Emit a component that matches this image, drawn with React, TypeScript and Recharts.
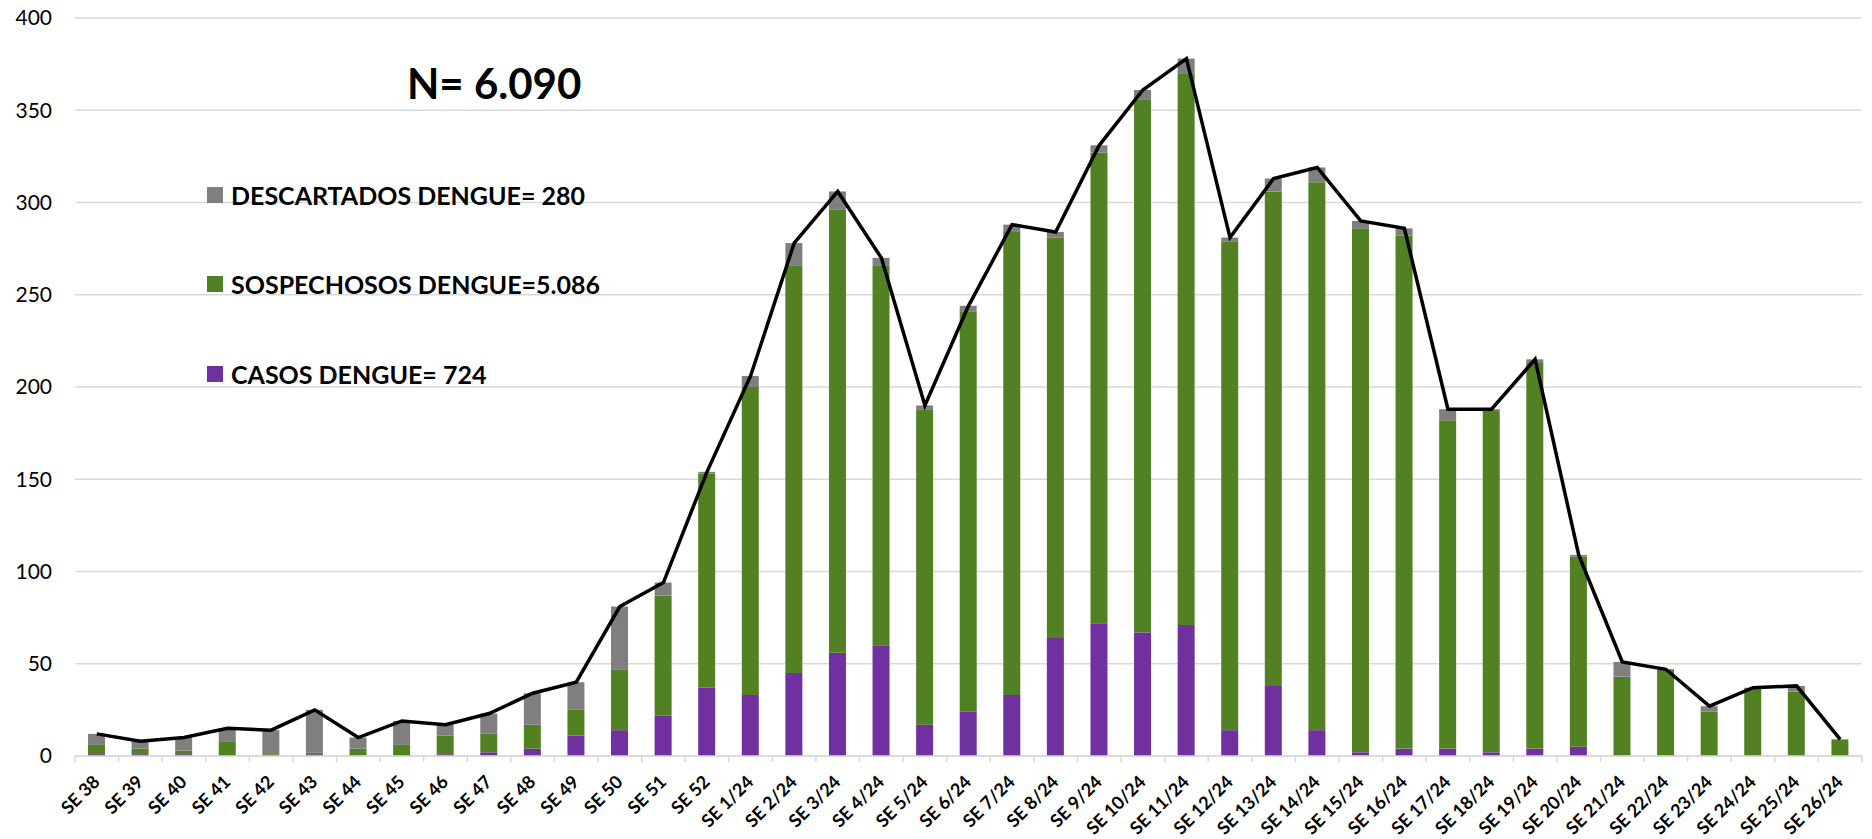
import { ComposedChart, Bar, Line, XAxis, YAxis, CartesianGrid, Legend } from 'recharts'

const W = 1872
const H = 839
const MARGIN = { top: 18, right: 10, left: 0, bottom: 0 }
const Y_AXIS_W = 75
const X_AXIS_H = 83

const weeks = [
  'SE 38', 'SE 39', 'SE 40', 'SE 41', 'SE 42', 'SE 43', 'SE 44', 'SE 45', 'SE 46', 'SE 47',
  'SE 48', 'SE 49', 'SE 50', 'SE 51', 'SE 52',
  'SE 1/24', 'SE 2/24', 'SE 3/24', 'SE 4/24', 'SE 5/24', 'SE 6/24', 'SE 7/24', 'SE 8/24',
  'SE 9/24', 'SE 10/24', 'SE 11/24', 'SE 12/24', 'SE 13/24', 'SE 14/24', 'SE 15/24', 'SE 16/24',
  'SE 17/24', 'SE 18/24', 'SE 19/24', 'SE 20/24', 'SE 21/24', 'SE 22/24', 'SE 23/24', 'SE 24/24',
  'SE 25/24', 'SE 26/24',
]

// casos confirmados (purple)
const casos = [
  1, 1, 1, 0, 0, 1, 0, 0, 1, 2, 4, 11, 14, 22, 37,
  33, 45, 56, 60, 17, 24, 33, 64, 72, 67, 71, 14, 38, 14, 2, 4, 4, 2, 4, 5, 0, 0, 0, 0, 0, 0,
]
// sospechosos (green)
const sospechosos = [
  5, 3, 2, 8, 1, 1, 4, 6, 10, 10, 13, 14, 33, 65, 116,
  167, 221, 240, 206, 171, 217, 251, 217, 255, 289, 299, 265, 268, 297, 284, 278, 178, 185, 209, 103,
  43, 47, 24, 37, 35, 9,
]
// descartados (gray)
const descartados = [
  6, 4, 7, 7, 13, 23, 6, 13, 6, 11, 17, 15, 34, 7, 1,
  6, 12, 10, 4, 2, 3, 4, 3, 4, 5, 8, 2, 7, 8, 4, 4, 6, 1, 2, 1, 8, 0, 3, 0, 3, 0,
]
// total per week (black line)
const totales = [
  12, 8, 10, 15, 14, 25, 10, 19, 17, 23, 34, 40, 81, 94, 154,
  206, 278, 306, 270, 190, 244, 288, 284, 331, 361, 378, 281, 313, 319, 290, 286, 188, 188, 215, 109,
  51, 47, 27, 37, 38, 9,
]

const yTicks = [0, 50, 100, 150, 200, 250, 300, 350, 400]

const legendItems = [
  { label: 'DESCARTADOS DENGUE= 280', color: '#7f7f7f' },
  { label: 'SOSPECHOSOS DENGUE=5.086', color: '#528124' },
  { label: 'CASOS DENGUE= 724', color: '#7030a0' },
]

const FONT = 'Lato, "Open Sans", sans-serif'
const GRID = '#d9d9d9'

const data = weeks.map((week, i) => ({
  week,
  casos: casos[i],
  sosp: sospechosos[i],
  desc: descartados[i],
  total: totales[i],
}))

const PLOT_W = W - MARGIN.left - MARGIN.right - Y_AXIS_W
const BAND = PLOT_W / weeks.length

function WeekTick(props: any) {
  const { x, y, payload, index } = props
  const half = BAND / 2
  return (
    <g>
      <line x1={x - half} x2={x - half} y1={y} y2={y + 6} stroke={GRID} strokeWidth={1.5} />
      {index === weeks.length - 1 && (
        <line x1={x + half} x2={x + half} y1={y} y2={y + 6} stroke={GRID} strokeWidth={1.5} />
      )}
      <text
        transform={`translate(${x + 4},${y + 27}) rotate(-45)`}
        textAnchor="end"
        fontFamily={FONT}
        fontWeight={700}
        fontSize={18}
        fill="#000"
      >
        {payload.value}
      </text>
    </g>
  )
}

function LegendBox() {
  return (
    <div style={{ fontFamily: FONT }}>
      {legendItems.map((it, i) => (
        <div
          key={it.label}
          style={{ display: 'flex', alignItems: 'center', height: 30, marginBottom: i < 2 ? 59.6 : 0 }}
        >
          <span style={{ width: 16, height: 16, background: it.color, display: 'inline-block', marginRight: 8 }} />
          <span style={{ fontSize: 25, fontWeight: 700, color: '#000', whiteSpace: 'nowrap' }}>{it.label}</span>
        </div>
      ))}
    </div>
  )
}

export default function App() {
  return (
    <div style={{ position: 'absolute', left: 0, top: 0, width: W, height: H, background: '#fff' }}>
      <ComposedChart width={W} height={H} data={data} margin={MARGIN}>
        <CartesianGrid vertical={false} stroke={GRID} strokeWidth={1.5} />
        <XAxis
          dataKey="week"
          height={X_AXIS_H}
          interval={0}
          axisLine={{ stroke: GRID, strokeWidth: 1.5 }}
          tickLine={false}
          tickSize={0}
          tickMargin={0}
          tick={<WeekTick />}
        />
        <YAxis
          width={Y_AXIS_W}
          domain={[0, 400]}
          ticks={yTicks}
          axisLine={false}
          tickLine={false}
          tickSize={0}
          tickMargin={23}
          tick={{ fontFamily: FONT, fontSize: 21, fill: '#000' }}
        />
        <Legend
          layout="vertical"
          align="center"
          verticalAlign="middle"
          content={<LegendBox />}
          wrapperStyle={{ left: 207, top: 179.5, width: 'auto', height: 'auto' }}
        />
        <Bar dataKey="casos" stackId="a" fill="#7030a0" barSize={17} isAnimationActive={false} legendType="none" />
        <Bar dataKey="sosp" stackId="a" fill="#528124" barSize={17} isAnimationActive={false} legendType="none" />
        <Bar dataKey="desc" stackId="a" fill="#7f7f7f" barSize={17} isAnimationActive={false} legendType="none" />
        <Line
          type="linear"
          dataKey="total"
          stroke="#000"
          strokeWidth={3.5}
          dot={false}
          activeDot={false}
          isAnimationActive={false}
          legendType="none"
        />
      </ComposedChart>
      <div
        style={{
          position: 'absolute',
          left: 407,
          top: 60,
          fontFamily: FONT,
          fontWeight: 700,
          fontSize: 42,
          lineHeight: '46px',
          color: '#000',
          whiteSpace: 'nowrap',
        }}
      >
        N= 6.090
      </div>
    </div>
  )
}
